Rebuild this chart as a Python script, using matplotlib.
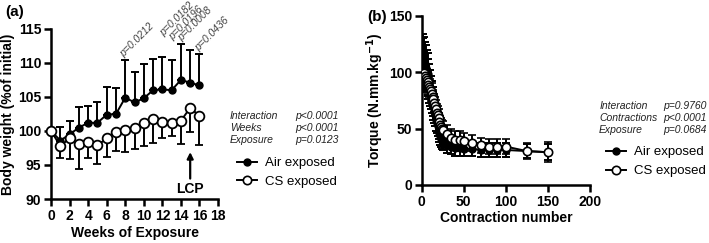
import matplotlib.pyplot as plt
import numpy as np

plt.rcParams['font.family'] = ['Liberation Sans', 'DejaVu Sans']

# panel a - body weight (% of initial)
weeks = [0, 1, 2, 3, 4, 5, 6, 7, 8, 9, 10, 11, 12, 13, 14, 15, 16]
air_bw = [100, 98.6, 99.5, 100.5, 101.2, 101.2, 102.4, 102.5, 104.9, 104.2, 104.8, 106.0, 106.1, 106.0, 107.5, 107.1, 106.7]
air_bw_sd = [0, 2.0, 1.9, 3.0, 2.5, 3.1, 4.1, 3.8, 5.5, 4.4, 5.0, 4.6, 4.8, 4.4, 5.3, 4.8, 4.6]
cs_bw = [100, 97.8, 98.9, 98.1, 98.4, 97.9, 98.9, 99.9, 100.1, 100.4, 101.1, 101.8, 101.3, 101.2, 101.5, 103.4, 102.2]
cs_bw_sd = [0, 1.8, 3.0, 3.7, 2.3, 2.8, 2.7, 2.9, 3.2, 3.1, 3.3, 3.5, 2.3, 2.0, 3.4, 3.6, 4.2]
p_labels = ['p=0.0212', 'p=0.0182', 'p=0.0196', 'p=0.0008', 'p=0.0436']
p_pos = [(8.0, 110.6), (12.3, 113.6), (13.3, 113.1), (14.3, 112.9), (16.1, 111.4)]
stats_a = [('Interaction', 'p<0.0001'), ('Weeks', 'p<0.0001'), ('Exposure', 'p=0.0123')]

# panel b - torque
contractions = [1, 2, 3, 4, 5, 6, 7, 8, 9, 10, 11, 12, 13, 14, 15, 16, 17, 18, 19, 20,
                21, 22, 23, 24, 25, 30, 35, 40, 45, 50, 60, 70, 80, 90, 100, 125, 150]
air_tq = [108, 112, 110, 107, 104, 101, 98, 94, 90, 86, 82, 78, 74, 70, 66, 62, 58, 55, 52, 49,
          46, 43, 41, 39, 38, 35, 34, 33, 33, 32, 32, 31, 31, 31, 31, 30, 29]
air_tq_sd = [22, 22, 21, 20, 20, 19, 19, 18, 17, 16, 15, 14, 13, 12, 11, 10, 10, 9, 9, 8,
             8, 8, 7, 7, 7, 7, 7, 7, 7, 6, 6, 6, 6, 6, 6, 6, 7]
cs_tq = [97, 99, 99, 97, 95, 93, 91, 89, 87, 85, 83, 81, 78, 76, 73, 70, 67, 64, 62, 59,
         56, 53, 51, 50, 49, 45, 42, 40, 40, 39, 37, 35, 34, 34, 34, 30, 29]
cs_tq_sd = [10, 11, 11, 10, 10, 10, 10, 9, 9, 9, 9, 9, 9, 8, 8, 8, 8, 8, 8, 8,
            8, 8, 8, 8, 8, 8, 8, 8, 8, 7, 7, 7, 7, 7, 7, 7, 9]
stats_b = [('Interaction', 'p=0.9760'), ('Contractions', 'p<0.0001'), ('Exposure', 'p=0.0684')]

fig = plt.figure(figsize=(7.09, 2.43), dpi=100)
ax1 = fig.add_axes([0.072, 0.181, 0.2355, 0.70])
ax2 = fig.add_axes([0.5948, 0.239, 0.2374, 0.696])


def style(ax):
    for s in ['top', 'right']:
        ax.spines[s].set_visible(False)
    for s in ['left', 'bottom']:
        ax.spines[s].set_linewidth(1.8)
    ax.tick_params(width=1.8, length=5, labelsize=10, pad=2)
    for lab in ax.get_xticklabels() + ax.get_yticklabels():
        lab.set_fontweight('bold')


# ---- panel a
z = np.zeros(len(weeks))
ax1.errorbar(weeks, air_bw, yerr=[z, air_bw_sd], color='black', marker='o', ms=5,
             mfc='black', lw=1.4, elinewidth=1.4, capsize=3, capthick=1.4, clip_on=False, zorder=3)
ax1.errorbar(weeks, cs_bw, yerr=[cs_bw_sd, z], color='black', marker='o', ms=7,
             mfc='white', mew=1.3, lw=1.4, elinewidth=1.4, capsize=3, capthick=1.4, clip_on=False, zorder=4)
ax1.set_xlim(0, 18)
ax1.set_ylim(90, 115)
ax1.set_xticks(range(0, 19, 2))
ax1.set_yticks(range(90, 116, 5))
style(ax1)
ax1.set_xlabel('Weeks of Exposure', fontsize=10, fontweight='bold', labelpad=2)
ax1.set_ylabel('Body weight (%of initial)', fontsize=10, fontweight='bold', labelpad=2)
for lab, (px, py) in zip(p_labels, p_pos):
    ax1.text(px, py, lab, rotation=45, rotation_mode='anchor', ha='left', va='bottom',
             fontsize=7.5, style='italic', color='#444444', clip_on=False)
ax1.annotate('', xy=(15, 97.3), xytext=(15, 92.6),
             arrowprops=dict(arrowstyle='-|>', color='black', lw=1.6, mutation_scale=9))
ax1.text(15, 91.4, 'LCP', ha='center', va='center', fontsize=10, fontweight='bold')
fig.text(0.008, 0.95, '(a)', fontsize=11, fontweight='bold', va='center')

for i, (name, p) in enumerate(stats_a):
    fig.text(0.324, 0.523 - i * 0.049, name, fontsize=7.5, style='italic', color='#222222', va='center')
    fig.text(0.416, 0.523 - i * 0.049, p, fontsize=7.5, style='italic', color='#222222', va='center')
h1 = plt.Line2D([], [], color='black', marker='o', ms=5, mfc='black', lw=1.4)
h2 = plt.Line2D([], [], color='black', marker='o', ms=6, mfc='white', mew=1.2, lw=1.4)
ax1.legend([h1, h2], ['Air exposed', 'CS exposed'], loc='center left', frameon=False,
           bbox_to_anchor=(0.318, 0.29), bbox_transform=fig.transFigure, fontsize=9.5,
           handlelength=1.5, handletextpad=0.6, labelspacing=0.5)

# ---- panel b
ax2.errorbar(contractions, air_tq, yerr=air_tq_sd, color='black', marker='o', ms=5,
             mfc='black', lw=1.4, elinewidth=1.4, capsize=3, capthick=1.4, zorder=3)
ax2.errorbar(contractions, cs_tq, yerr=cs_tq_sd, color='black', marker='o', ms=6,
             mfc='white', mew=1.2, lw=1.4, elinewidth=1.4, capsize=3, capthick=1.4, zorder=4)
ax2.set_xlim(0, 200)
ax2.set_ylim(0, 150)
ax2.set_xticks([0, 50, 100, 150, 200])
ax2.set_yticks([0, 50, 100, 150])
style(ax2)
ax2.set_xlabel('Contraction number', fontsize=10, fontweight='bold', labelpad=2)
ax2.set_ylabel('Torque (N.mm.kg$^{\\mathbf{-1}}$)', fontsize=10, fontweight='bold', labelpad=2)
fig.text(0.518, 0.93, '(b)', fontsize=11, fontweight='bold', va='center')

for i, (name, p) in enumerate(stats_b):
    fig.text(0.845, 0.563 - i * 0.049, name, fontsize=7.5, style='italic', color='#222222', va='center')
    fig.text(0.935, 0.563 - i * 0.049, p, fontsize=7.5, style='italic', color='#222222', va='center')
ax2.legend([h1, h2], ['Air exposed', 'CS exposed'], loc='center left', frameon=False,
           bbox_to_anchor=(0.838, 0.335), bbox_transform=fig.transFigure, fontsize=9.5,
           handlelength=1.5, handletextpad=0.6, labelspacing=0.5)

fig.savefig('out.png', dpi=100)
